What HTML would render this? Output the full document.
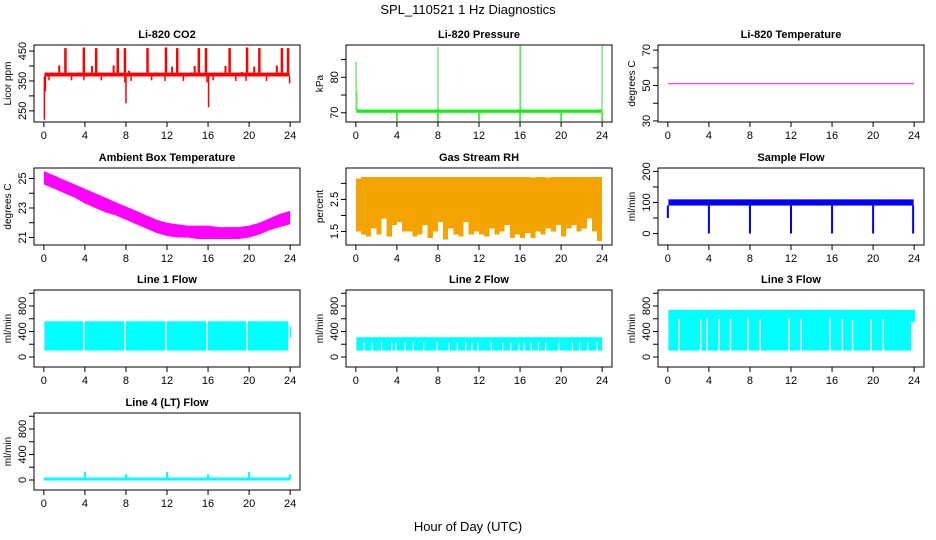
<!DOCTYPE html>
<html><head><meta charset="utf-8"><style>
html,body{margin:0;padding:0;background:#fff}
svg{display:block;font-family:"Liberation Sans",sans-serif}
</style></head><body>
<svg id="chart" width="936" height="540" viewBox="0 0 936 540">
<text x="468" y="14" text-anchor="middle" font-size="13">SPL_110521  1 Hz Diagnostics</text>
<text x="468" y="531" text-anchor="middle" font-size="13">Hour of Day (UTC)</text>
</svg>
<script>
// ---- data ----
const xTicks = [0,4,8,12,16,20,24];
// CO2
const co2Band = [365,378];
const co2UpT = [2.1,3.9,5.1,7.2,7.9,10.1,11.9,13.0,15.1,15.8,18.1,19.8,21.0,23.2,23.8];
const co2UpV = [460,462,460,460,460,460,462,460,460,460,460,462,460,460,460];
const co2SmallT = [1.5,4.7,6.8,8.3,12.5,14.7,17.7,19.3,20.5,22.7];
const co2SmallV = [402,400,402,384,398,400,400,380,398,402];
const co2DownT = [0.05,0.15,0.5,2.7,3.9,5.6,7.9,8.0,8.5,10.5,11.8,13.6,15.9,16.05,16.5,18.7,19.7,21.7,23.95];
const co2DownV = [220,315,352,352,352,352,345,275,350,352,350,350,345,262,352,350,350,350,342];
// Pressure
const presBand = [70.0,70.9];
const presUpT = [0.03,0.1,8.0,16.0,16.05,24.0];
const presUpV = [84.5,76,88.5,89.2,89.2,89.2];
const presDownT = [4.0,8.0,12.0,16.0,20.0,24.0];
const presDownV = [67.7,67.5,67.7,67.6,67.7,67.6];
// Li-820 Temperature
const tempT = [0,24];
const tempV = [51,51];
// Ambient box temperature (hourly envelope)
const ambT = [0,1,2,3,4,5,6,7,8,9,10,11,12,13,14,15,16,17,18,19,20,21,22,23,24];
const ambHi = [25.5,25.2,24.9,24.6,24.3,24.0,23.7,23.4,23.1,22.8,22.5,22.2,22.0,21.9,21.8,21.8,21.8,21.7,21.7,21.7,21.8,22.0,22.3,22.6,22.8];
const ambLo = [24.6,24.3,24.0,23.7,23.3,23.0,22.7,22.5,22.2,21.9,21.6,21.3,21.1,21.0,21.0,20.9,20.9,20.9,20.9,20.9,21.0,21.2,21.5,21.7,21.9];
// Gas stream RH (half-hourly envelope)
const rhT = [0,0.5,1,1.5,2,2.5,3,3.5,4,4.5,5,5.5,6,6.5,7,7.5,8,8.5,9,9.5,10,10.5,11,11.5,12,12.5,13,13.5,14,14.5,15,15.5,16,16.5,17,17.5,18,18.5,19,19.5,20,20.5,21,21.5,22,22.5,23,23.5,24];
const rhHi = [3.15,3.2,3.2,3.2,3.2,3.2,3.2,3.2,3.2,3.2,3.2,3.2,3.2,3.2,3.2,3.2,3.2,3.2,3.2,3.2,3.2,3.2,3.2,3.2,3.2,3.2,3.2,3.2,3.2,3.2,3.2,3.2,3.2,3.2,3.18,3.2,3.2,3.18,3.2,3.2,3.2,3.2,3.2,3.2,3.2,3.2,3.2,3.2,3.2];
const rhLo = [1.5,1.4,1.35,1.6,1.4,1.9,1.35,1.7,1.8,1.5,1.5,1.35,1.4,1.7,1.3,1.5,1.8,1.25,1.6,1.4,1.35,1.8,1.4,1.5,1.4,1.35,1.6,1.4,1.5,1.7,1.3,1.4,1.3,1.45,1.3,1.5,1.4,1.6,1.5,1.7,1.35,1.6,1.7,1.5,1.6,1.9,1.5,1.2,1.35];
// Sample flow
const sfBand = [90,110];
const sfDownT = [0.0,4.0,8.0,12.0,16.0,20.0,23.9];
const sfDownV = [50,0,0,0,0,0,0];
// Line flows
const l1Band = [100,560];
const l1GapT = [3.9,7.9,11.9,15.9,19.8];
const l2Band = [100,310];
const l2GapT = [0.8,1.6,2.5,3.5,3.9,4.8,5.6,6.6,7.9,9.1,9.9,10.7,11.3,11.9,13.2,14.3,15.1,15.9,16.4,17.1,17.8,18.5,19.8,21.1,21.8,22.6,23.5];
const l3Band = [100,740];
const l3GapT = [1.1,3.2,3.8,5.0,6.1,7.8,9.0,11.8,13.0,15.8,17.0,18.0,19.8,21.0];
const l3GapV = [600,590,610,600,600,620,590,610,590,610,600,580,600,600];
const l4Base = [15];
const l4SpikeT = [4.0,8.0,12.0,16.0,20.0,24.0];
const l4SpikeV = [125,90,125,90,125,90];

// ---- layout ----
const NS = 'http://www.w3.org/2000/svg';
const svg = document.getElementById('chart');
const colLeft = [34,346,658], rowTop = [45,168,290,413], W = 266, H = 77;
function el(tag, attrs, parent){ const e = document.createElementNS(NS, tag); for (const k in attrs) e.setAttribute(k, attrs[k]); (parent||svg).appendChild(e); return e; }

function panel(name, col, row, title, ylab, ylim, yticks, ylabels){
  const L = colLeft[col], T = rowTop[row];
  const g = el('g', {});
  
  
  const xs = t => L + (t + 0.96) / 25.92 * W;
  const ys = v => T + H - (v - ylim[0]) / (ylim[1] - ylim[0]) * H;
  const plot = el('g', {}, g);
  
  
  const box = el('rect', {x:L, y:T, width:W, height:H, fill:'none', stroke:'#000', 'stroke-width':1}, g);
  
  
  const tt = el('text', {x:L+W/2, y:T-7, 'text-anchor':'middle', 'font-size':11, 'font-weight':'bold'}, g);
  tt.textContent = title;
  
  
  xTicks.forEach(t => {
    el('line', {x1:xs(t), x2:xs(t), y1:T+H, y2:T+H+5, stroke:'#000'}, g);
    const lb = el('text', {x:xs(t), y:T+H+17, 'text-anchor':'middle', 'font-size':11}, g);
    lb.textContent = t;
    
    
  });
  yticks.forEach(v => {
    el('line', {x1:L, x2:L-5, y1:ys(v), y2:ys(v), stroke:'#000'}, g);
  });
  ylabels.forEach(v => {
    const lb = el('text', {x:0, y:0, 'text-anchor':'middle', 'font-size':11, transform:`translate(${L-8},${ys(v)}) rotate(-90)`}, g);
    lb.textContent = v;
    
    
  });
  const yl = el('text', {x:0, y:0, 'text-anchor':'middle', 'font-size':10, transform:`translate(${L-23},${T+H/2}) rotate(-90)`}, g);
  yl.textContent = ylab;
  
  
  return {xs, ys, plot};
}
function vline(p, t, v1, v2, color, w){ return el('line', {x1:p.xs(t), x2:p.xs(t), y1:p.ys(v1), y2:p.ys(v2), stroke:color, 'stroke-width':w||1.5}, p.plot); }
function bandRect(p, t1, t2, lo, hi, fill){ return el('rect', {x:p.xs(t1), y:p.ys(hi), width:p.xs(t2)-p.xs(t1), height:p.ys(lo)-p.ys(hi), fill:fill}, p.plot); }
function bandPoly(p, ts, hi, lo, fill){
  const pts = [];
  ts.forEach((t,i)=>pts.push(p.xs(t)+','+p.ys(hi[i])));
  for (let i=ts.length-1;i>=0;i--) pts.push(p.xs(ts[i])+','+p.ys(lo[i]));
  return el('polygon', {points:pts.join(' '), fill:fill}, p.plot);
}

// CO2
let p = panel('co2', 0, 0, 'Li-820 CO2', 'Licor ppm', [212.7,470.3], [250,300,350,400,450], [250,350,450]);
let b = bandRect(p, 0.05, 23.95, co2Band[0], co2Band[1], '#f00');

co2UpT.forEach((t,i)=>{ const l = vline(p, t, co2Band[1], co2UpV[i], '#f00', 2.5);  });
co2SmallT.forEach((t,i)=>{ const l = vline(p, t, co2Band[1], co2SmallV[i], '#f00', 2);  });
co2DownT.forEach((t,i)=>{ const l = vline(p, t, co2Band[0], co2DownV[i], '#f00', 1.5);  });

// Pressure
p = panel('pressure', 1, 0, 'Li-820 Pressure', 'kPa', [67.4,89.1], [70,75,80,85], [70,80]);
b = bandRect(p, 0.05, 24, presBand[0], presBand[1], '#1e1');

presUpT.forEach((t,i)=>{ const l = vline(p, t, presBand[1], presUpV[i], '#0c0', 1.5);  l.setAttribute('stroke-dasharray','1 1'); });
presDownT.forEach((t,i)=>{ const l = vline(p, t, presBand[0], presDownV[i], '#1e1', 1.5);  });

// Li-820 temperature
p = panel('li820-temp', 2, 0, 'Li-820 Temperature', 'degrees C', [29.4,72.9], [30,40,50,60,70], [30,50,70]);
let ln = el('line', {x1:p.xs(tempT[0]), x2:p.xs(tempT[1]), y1:p.ys(tempV[0]), y2:p.ys(tempV[1]), stroke:'#f0f', 'stroke-width':1}, p.plot);


// Ambient
p = panel('ambient-temp', 0, 1, 'Ambient Box Temperature', 'degrees C', [20.49,25.71], [21,22,23,24,25], [21,23,25]);
b = bandPoly(p, ambT, ambHi, ambLo, '#f0f');


// RH
p = panel('gas-rh', 1, 1, 'Gas Stream RH', 'percent', [1.08,3.48], [1.5,2.0,2.5,3.0], [1.5,2.5]);
for (let i=0;i<rhT.length-1;i++){ const r = bandRect(p, rhT[i], rhT[i+1], rhLo[i], rhHi[i], '#f4a400'); r.setAttribute('shape-rendering','crispEdges');  }

// Sample flow
p = panel('sample-flow', 2, 1, 'Sample Flow', 'ml/min', [-37,211], [0,50,100,150,200], [0,100,200]);
b = bandRect(p, 0.05, 23.95, sfBand[0], sfBand[1], '#00f');

sfDownT.forEach((t,i)=>{ const l = vline(p, t, sfBand[0], sfDownV[i], '#00f', 2);  });

// Line flows
const flowLim = [-157,1051], flowTicks = [0,200,400,600,800,1000], flowLabels = [0,400,800];
p = panel('line1-flow', 0, 2, 'Line 1 Flow', 'ml/min', flowLim, flowTicks, flowLabels);
b = bandRect(p, 0.05, 23.8, l1Band[0], l1Band[1], '#0ff'); 
b = bandRect(p, 23.95, 24.1, 300, 480, '#0ff'); 
l1GapT.forEach(t=>{ const l = vline(p, t, l1Band[0]-10, l1Band[1]+10, '#fff', 1.5);  });

p = panel('line2-flow', 1, 2, 'Line 2 Flow', 'ml/min', flowLim, flowTicks, flowLabels);
b = bandRect(p, 0.05, 24, l2Band[0], l2Band[1], '#0ff'); 
l2GapT.forEach(t=>{ const l = vline(p, t, l2Band[0]-10, 230, '#fff', 1.2);  });

p = panel('line3-flow', 2, 2, 'Line 3 Flow', 'ml/min', flowLim, flowTicks, flowLabels);
b = bandRect(p, 0.05, 23.7, l3Band[0], l3Band[1], '#0ff'); 
b = bandRect(p, 23.7, 24.1, 550, 740, '#0ff'); 
l3GapT.forEach((t,i)=>{ const l = vline(p, t, l3Band[0]-10, l3GapV[i], '#fff', 1.5);  });

p = panel('line4-flow', 0, 3, 'Line 4 (LT) Flow', 'ml/min', flowLim, flowTicks, flowLabels);
ln = el('line', {x1:p.xs(0), x2:p.xs(24), y1:p.ys(l4Base[0]), y2:p.ys(l4Base[0]), stroke:'#0ff', 'stroke-width':3}, p.plot);

l4SpikeT.forEach((t,i)=>{ const l = vline(p, t, l4Base[0], l4SpikeV[i], '#0ff', 2);  });
</script>
</body></html>
